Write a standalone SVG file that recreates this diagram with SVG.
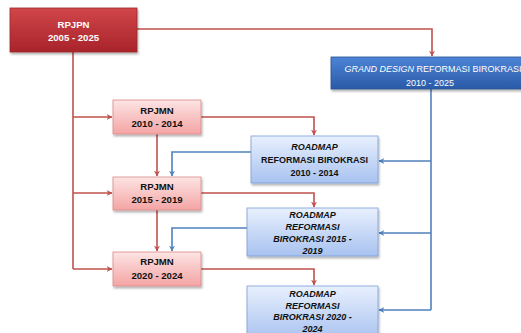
<svg xmlns="http://www.w3.org/2000/svg" width="521" height="333" viewBox="0 0 521 333">
<defs>
<linearGradient id="gDark" x1="0" y1="0" x2="0" y2="1"><stop offset="0" stop-color="#d0464a"/><stop offset="1" stop-color="#a8242a"/></linearGradient>
<linearGradient id="gPink" x1="0" y1="0" x2="0" y2="1"><stop offset="0" stop-color="#fde4e4"/><stop offset="1" stop-color="#f4a4a4"/></linearGradient>
<linearGradient id="gLight" x1="0" y1="0" x2="0" y2="1"><stop offset="0" stop-color="#e8f0fd"/><stop offset="1" stop-color="#a8c2f0"/></linearGradient>
<linearGradient id="gBlue" x1="0" y1="0" x2="0" y2="1"><stop offset="0" stop-color="#4c84d6"/><stop offset="1" stop-color="#2a5aa8"/></linearGradient>
<filter id="sh" x="-10%" y="-10%" width="130%" height="140%"><feDropShadow dx="1" dy="2" stdDeviation="1" flood-color="#000" flood-opacity="0.3"/></filter>
<marker id="ar" viewBox="0 0 10 10" refX="9" refY="5" markerWidth="6" markerHeight="6" orient="auto" markerUnits="userSpaceOnUse"><path d="M0,0 L10,5 L0,10 L3,5 z" fill="#c0504d"/></marker>
<marker id="ab" viewBox="0 0 10 10" refX="9" refY="5" markerWidth="6" markerHeight="6" orient="auto" markerUnits="userSpaceOnUse"><path d="M0,0 L10,5 L0,10 L3,5 z" fill="#4f81bd"/></marker>
</defs>
<style>
text{font-family:"Liberation Sans",Arial,sans-serif;font-weight:bold;font-size:9px;text-anchor:middle;fill:#111}
.w{fill:#fff}
.n{font-size:9.6px}
.r{fill:none;stroke:#c0504d;stroke-width:1.6}
.b{fill:none;stroke:#4f81bd;stroke-width:1.6}
.i{font-style:italic}
</style>
<g id="connectors">
<path class="r" d="M137,29 H432 V56" marker-end="url(#ar)"/>
<path class="r" d="M73,52 V269"/>
<path class="r" d="M73,117 H112" marker-end="url(#ar)"/>
<path class="r" d="M73,193 H112" marker-end="url(#ar)"/>
<path class="r" d="M73,269 H112" marker-end="url(#ar)"/>
<path class="r" d="M157,134 V176" marker-end="url(#ar)"/>
<path class="r" d="M157,210 V251" marker-end="url(#ar)"/>
<path class="r" d="M201,117 H314 V135" marker-end="url(#ar)"/>
<path class="r" d="M201,193 H314 V207" marker-end="url(#ar)"/>
<path class="r" d="M201,269 H314 V285" marker-end="url(#ar)"/>
<path class="b" d="M431,89 V310"/>
<path class="b" d="M431,161 H379" marker-end="url(#ab)"/>
<path class="b" d="M431,233 H379" marker-end="url(#ab)"/>
<path class="b" d="M431,310 H379" marker-end="url(#ab)"/>
<path class="b" d="M251,152 H172 V176" marker-end="url(#ab)"/>
<path class="b" d="M247,228 H172 V251" marker-end="url(#ab)"/>
</g>
<g id="rpjpn">
<rect x="10" y="8" width="127" height="44" fill="url(#gDark)" stroke="#9c2a2c" stroke-width="0.8" filter="url(#sh)"/>
<text class="w n" x="73.5" y="28">RPJPN</text>
<text class="w n" x="73.5" y="41">2005 - 2025</text>
</g>
<g id="grand-design">
<rect x="331" y="57" width="200" height="32" fill="url(#gBlue)" stroke="#2a5090" stroke-width="0.8" filter="url(#sh)"/>
<text class="w" x="433" y="72" style="font-weight:normal"><tspan class="i">GRAND DESIGN</tspan> REFORMASI BIROKRASI</text>
<text class="w" x="430" y="86" style="font-weight:normal">2010 - 2025</text>
</g>
<g id="rpjmn-2010">
<rect x="113" y="100" width="88" height="34" fill="url(#gPink)" stroke="#d98a8a" stroke-width="0.8" filter="url(#sh)"/>
<text class="n" x="157" y="114">RPJMN</text>
<text class="n" x="157" y="127">2010 - 2014</text>
</g>
<g id="rpjmn-2015">
<rect x="113" y="177" width="88" height="33" fill="url(#gPink)" stroke="#d98a8a" stroke-width="0.8" filter="url(#sh)"/>
<text class="n" x="157" y="190">RPJMN</text>
<text class="n" x="157" y="203">2015 - 2019</text>
</g>
<g id="rpjmn-2020">
<rect x="113" y="252" width="88" height="34" fill="url(#gPink)" stroke="#d98a8a" stroke-width="0.8" filter="url(#sh)"/>
<text class="n" x="157" y="265">RPJMN</text>
<text class="n" x="157" y="279">2020 - 2024</text>
</g>
<g id="roadmap-2010">
<rect x="251" y="136" width="127" height="47" fill="url(#gLight)" stroke="#7b9fd6" stroke-width="0.8" filter="url(#sh)"/>
<text class="i" x="314.5" y="150">ROADMAP</text>
<text x="314.5" y="163">REFORMASI BIROKRASI</text>
<text x="314.5" y="176">2010 - 2014</text>
</g>
<g id="roadmap-2015">
<rect x="247" y="208" width="131" height="48" fill="url(#gLight)" stroke="#7b9fd6" stroke-width="0.8" filter="url(#sh)"/>
<text class="i" x="312.5" y="218">ROADMAP</text>
<text class="i" x="312.5" y="230">REFORMASI</text>
<text class="i" x="312.5" y="242">BIROKRASI 2015 -</text>
<text class="i" x="312.5" y="254">2019</text>
</g>
<g id="roadmap-2020">
<rect x="247" y="286" width="131" height="54" fill="url(#gLight)" stroke="#7b9fd6" stroke-width="0.8" filter="url(#sh)"/>
<text class="i" x="312.5" y="297">ROADMAP</text>
<text class="i" x="312.5" y="308.5">REFORMASI</text>
<text class="i" x="312.5" y="320">BIROKRASI 2020 -</text>
<text class="i" x="312.5" y="331.5">2024</text>
</g>
</svg>
